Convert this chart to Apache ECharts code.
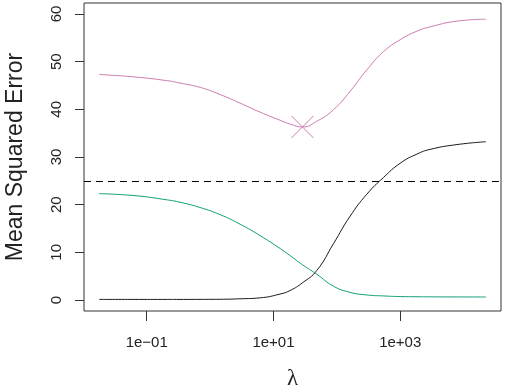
<!DOCTYPE html>
<html><head><meta charset="utf-8">
<script src="https://cdn.jsdelivr.net/npm/echarts@6/dist/echarts.min.js"></script>
<style>html,body{margin:0;padding:0;background:#fff}#c{width:506px;height:389px}</style>
</head><body><div id="c"></div>
<script>
// log10(lambda) grid
const logLambda   = [-1.75, -1.2, -0.675, -0.474, -0.158, 0.158, 0.473, 0.789, 1.105, 1.263, 1.457, 1.684, 1.946, 2.21, 2.474, 2.736, 3.0, 3.263, 3.473, 3.895, 4.353];
const squaredBias = [0.12, 0.12, 0.12, 0.12, 0.13, 0.15, 0.25, 0.45, 1.25, 2.0, 3.6, 6.2, 11.8, 17.6, 22.2, 25.7, 28.7, 30.6, 31.6, 32.6, 33.2];
const variance    = [22.3, 21.9, 21.0, 20.5, 19.4, 17.9, 15.9, 13.5, 10.8, 9.3, 7.4, 5.4, 2.9, 1.6, 1.05, 0.85, 0.72, 0.68, 0.66, 0.64, 0.63];
const testMSE     = [47.3, 46.8, 46.0, 45.5, 44.6, 43.1, 41.3, 39.4, 37.7, 36.9, 36.3, 37.5, 39.9, 43.8, 48.3, 52.1, 54.6, 56.4, 57.3, 58.5, 58.9];
const minPoint    = [1.457, 36.3];
const irreducibleError = 25;
const xTickValues = [-1, 1, 3];
const xTickLabels = ['1e\u221201', '1e+01', '1e+03'];
const yTickValues = [0, 10, 20, 30, 40, 50, 60];

const PINK = '#cf7bb0', GREEN = '#109e78', BLACK = '#1a1a1a';
const toPairs = arr => logLambda.map((x, i) => [x, arr[i]]);
const font = 'Liberation Sans, Arial, Helvetica, sans-serif';

const chart = echarts.init(document.getElementById('c'), null, {renderer: 'canvas'});
chart.setOption({
  animation: false,
  backgroundColor: '#fff',
  grid: {left: 84, top: 3, right: 5, bottom: 78, containLabel: false, outerBoundsMode: 'none',
         show: true, borderColor: '#333', borderWidth: 1, backgroundColor: 'transparent'},
  xAxis: {
    type: 'value', min: -1.99, max: 4.59,
    axisLine: {show: false, onZero: false},
    splitLine: {show: false},
    axisTick: {show: true, length: 10, lineStyle: {color: '#333'}, customValues: xTickValues},
    axisLabel: {customValues: xTickValues, margin: 24, fontSize: 15, color: '#222', fontFamily: font,
      formatter: v => xTickLabels[xTickValues.indexOf(Math.round(v))] || ''},
    name: '\u03bb', nameLocation: 'middle', nameGap: 56,
    nameTextStyle: {fontSize: 23, color: '#222', fontFamily: 'Liberation Serif, serif'}
  },
  yAxis: {
    type: 'value', min: -2.31, max: 62.3,
    axisLine: {show: false, onZero: false},
    splitLine: {show: false},
    axisTick: {show: true, length: 9, lineStyle: {color: '#333'}, customValues: yTickValues},
    axisLabel: {customValues: yTickValues, rotate: 90, margin: 20, fontSize: 15, color: '#222', fontFamily: font},
    name: 'Mean Squared Error', nameLocation: 'middle', nameGap: 57,
    nameTextStyle: {fontSize: 23, color: '#222', fontFamily: font}
  },
  series: [
    {type: 'line', data: toPairs(squaredBias), showSymbol: false, smooth: 0.5,
     lineStyle: {color: BLACK, width: 1}, itemStyle: {color: BLACK},
     markLine: {silent: true, symbol: 'none', label: {show: false},
       lineStyle: {color: '#000', width: 1, type: [7, 5]}, data: [{yAxis: irreducibleError}]}},
    {type: 'line', data: toPairs(variance), showSymbol: false, smooth: 0.5,
     lineStyle: {color: GREEN, width: 1}, itemStyle: {color: GREEN}},
    {type: 'line', data: toPairs(testMSE), showSymbol: false, smooth: 0.5,
     lineStyle: {color: PINK, width: 1}, itemStyle: {color: PINK}},
    {type: 'custom', data: [minPoint], z: 5,
     renderItem: (params, api) => {
       const p = api.coord([api.value(0), api.value(1)]);
       const h = 11;
       return {type: 'group', children: [
         {type: 'line', shape: {x1: p[0]-h, y1: p[1]-h, x2: p[0]+h, y2: p[1]+h}, style: {stroke: PINK, lineWidth: 1}},
         {type: 'line', shape: {x1: p[0]-h, y1: p[1]+h, x2: p[0]+h, y2: p[1]-h}, style: {stroke: PINK, lineWidth: 1}}
       ]};
     }}
  ]
});
</script></body></html>
